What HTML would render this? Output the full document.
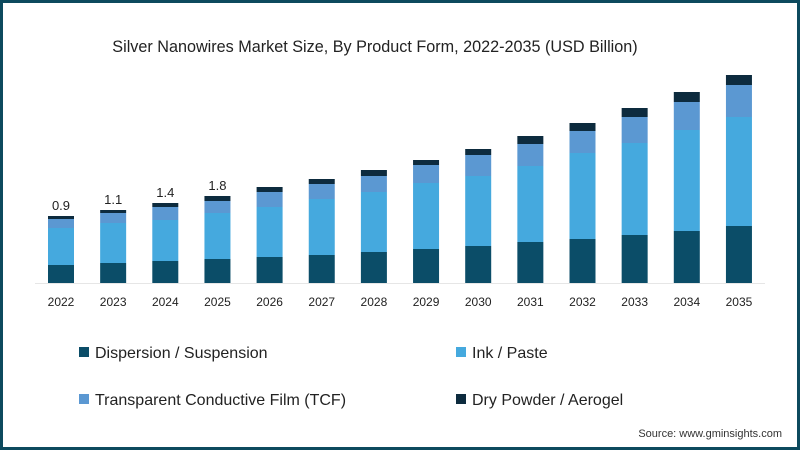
<!DOCTYPE html>
<html><head><meta charset="utf-8"><style>
html,body{margin:0;padding:0;background:#fff}
#wrap{position:relative;width:800px;height:450px;box-sizing:border-box;border:3px solid #0d4a5e;background:#fff;font-family:"Liberation Sans",sans-serif;overflow:hidden}
svg{position:absolute;left:-3px;top:-3px}
</style></head><body>
<div id="wrap">
<svg id="chart" width="800" height="450">
<text x="375" y="52" text-anchor="middle" font-size="16.2" fill="#222">Silver Nanowires Market Size, By Product Form, 2022-2035 (USD Billion)</text>
<line x1="35" y1="283.5" x2="765" y2="283.5" stroke="#e6e6e6" stroke-width="1"/>
<g id="bars"></g><g id="xlabels"></g><g id="vlabels"></g>
<g>
<rect x="79" y="347" width="10" height="10" fill="#0b4d68"/>
<text x="95" y="358" font-size="16" fill="#222">Dispersion / Suspension</text>
<rect x="456" y="347" width="10" height="10" fill="#45a9de"/>
<text x="472" y="358" font-size="16" fill="#222">Ink / Paste</text>
<rect x="79" y="394" width="10" height="10" fill="#5b98d2"/>
<text x="95" y="405" font-size="16" fill="#222">Transparent Conductive Film (TCF)</text>
<rect x="456" y="394" width="10" height="10" fill="#0d2b3e"/>
<text x="472" y="405" font-size="16" fill="#222">Dry Powder / Aerogel</text>
</g>
<text x="782" y="437" text-anchor="end" font-size="11" fill="#333">Source: www.gminsights.com</text>
</svg>
</div>
<script>
const years = ["2022","2023","2024","2025","2026","2027","2028","2029","2030","2031","2032","2033","2034","2035"];
const dispersion = [0.18,0.20,0.22,0.24,0.26,0.28,0.31,0.34,0.37,0.41,0.44,0.48,0.52,0.57];
const inkPaste = [0.37,0.40,0.41,0.46,0.50,0.56,0.60,0.66,0.70,0.76,0.86,0.92,1.01,1.09];
const tcf = [0.09,0.10,0.13,0.12,0.15,0.15,0.16,0.18,0.21,0.22,0.22,0.26,0.28,0.32];
const dryPowder = [0.03,0.03,0.04,0.05,0.05,0.05,0.06,0.05,0.06,0.08,0.08,0.09,0.10,0.10];
const valueLabels = ["0.9","1.1","1.4","1.8"];
const series = [dispersion, inkPaste, tcf, dryPowder];
const colors = ["#0b4d68","#45a9de","#5b98d2","#0d2b3e"];
const names = ["dispersion","ink","tcf","dry-powder"];
const ns = "http://www.w3.org/2000/svg";
const baseY = 283, pxPerUnit = 100, x0 = 61, step = 52.15, bw = 26;
function xPos(i){return x0 + i*step;}
function yScale(v){return v*pxPerUnit;}
const bars = document.getElementById('bars');
const xl = document.getElementById('xlabels');
const vl = document.getElementById('vlabels');
years.forEach((yr,i)=>{
  let acc = 0;
  series.forEach((s,k)=>{
    const h = yScale(s[i]);
    const r = document.createElementNS(ns,'rect');
    r.setAttribute('x', xPos(i)-bw/2);
    r.setAttribute('y', baseY - yScale(acc) - h);
    r.setAttribute('width', bw);
    r.setAttribute('height', h);
    r.setAttribute('fill', colors[k]);
    
    
    bars.appendChild(r);
    acc += s[i];
  });
  const t = document.createElementNS(ns,'text');
  t.setAttribute('x', xPos(i)); t.setAttribute('y', 306);
  t.setAttribute('text-anchor','middle'); t.setAttribute('font-size','12'); t.setAttribute('fill','#222');
  t.textContent = yr;
  
  
  xl.appendChild(t);
  if (i < valueLabels.length) {
    const v = document.createElementNS(ns,'text');
    v.setAttribute('x', xPos(i)); v.setAttribute('y', baseY - yScale(acc) - 6);
    v.setAttribute('text-anchor','middle'); v.setAttribute('font-size','13'); v.setAttribute('fill','#222');
    v.textContent = valueLabels[i];
    
    
    vl.appendChild(v);
  }
});
</script>
</body></html>
